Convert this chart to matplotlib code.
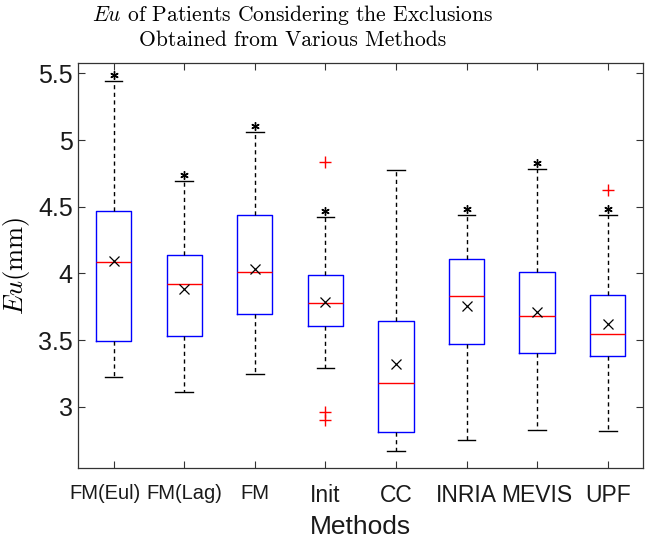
import numpy as np
import matplotlib
matplotlib.use('Agg')
import matplotlib.pyplot as plt
import matplotlib.transforms as mtransforms

plt.rcParams['font.family'] = ['Liberation Sans', 'DejaVu Sans']
plt.rcParams['mathtext.fontset'] = 'cm'

# Data
methods = ['FM(Eul)', 'FM(Lag)', 'FM', 'Init', 'CC', 'INRIA', 'MEVIS', 'UPF']
label_sizes = [14.5, 14.5, 14.5, 16.5, 16.5, 16.5, 16.5, 16.5]
q1 = [3.495, 3.532, 3.700, 3.607, 2.812, 3.475, 3.405, 3.380]
med = [4.087, 3.920, 4.012, 3.777, 3.182, 3.832, 3.682, 3.545]
q3 = [4.470, 4.137, 4.437, 3.992, 3.645, 4.112, 4.012, 3.842]
whislo = [3.225, 3.112, 3.245, 3.292, 2.672, 2.755, 2.827, 2.817]
whishi = [5.445, 4.695, 5.062, 4.425, 4.775, 4.437, 4.782, 4.437]
means = [4.090, 3.880, 4.030, 3.785, 3.320, 3.757, 3.715, 3.625]
outliers = [[], [], [], [4.832, 2.962, 2.905], [], [], [], [4.625]]
starred = [True, True, True, True, False, True, True, True]

stats = []
for i in range(len(methods)):
    stats.append(dict(label=methods[i], q1=q1[i], med=med[i], q3=q3[i],
                      whislo=whislo[i], whishi=whishi[i], mean=means[i],
                      fliers=outliers[i]))

fig = plt.figure(figsize=(6.45, 5.38), dpi=100)
ax = fig.add_axes([0.1214, 0.1296, 0.8755, 0.7539])

pos = np.arange(1, len(methods) + 1)
ax.bxp(stats, positions=pos, widths=0.5, showmeans=True,
       boxprops=dict(color='blue', linewidth=1.0),
       medianprops=dict(color='red', linewidth=1.0),
       whiskerprops=dict(color='black', linestyle=(0, (3, 2.5)), linewidth=1.0),
       capprops=dict(color='black', linewidth=1.0),
       flierprops=dict(marker='+', markeredgecolor='red', markersize=9,
                       markeredgewidth=1.0, linestyle='none'),
       meanprops=dict(marker='x', markeredgecolor='black', markerfacecolor='none',
                      markersize=7, markeredgewidth=0.9))

# stars just above the upper whisker
star_tr = ax.transData + mtransforms.ScaledTranslation(0, 4.2 / 72, fig.dpi_scale_trans)
for i in range(len(methods)):
    if starred[i]:
        ax.plot(pos[i], whishi[i], marker=(6, 2, 0), color='black', markersize=6,
                markeredgewidth=1.0, transform=star_tr, clip_on=False)

ax.set_xlim(0.5, 8.5)
ax.set_ylim(2.54, 5.58)
ax.set_yticks([3, 3.5, 4, 4.5, 5, 5.5])
ax.set_yticklabels(['3', '3.5', '4', '4.5', '5', '5.5'], fontsize=18)
ax.set_xticks(pos)
ax.set_xticklabels(methods)
for lbl, sz in zip(ax.get_xticklabels(), label_sizes):
    lbl.set_fontsize(sz)
    lbl.set_verticalalignment('top')

ax.tick_params(direction='in', top=True, right=True, length=5, width=0.8,
               color='#333333', labelcolor='#1a1a1a')
ax.tick_params(axis='x', pad=11)
ax.tick_params(axis='y', pad=4)
for sp in ax.spines.values():
    sp.set_color('#333333')
    sp.set_linewidth(0.9)

# first label sits a bit left of its tick in the reference
first = ax.get_xticklabels()[0]
first.set_transform(first.get_transform()
                    + mtransforms.ScaledTranslation(-6 / 72, 0, fig.dpi_scale_trans))

ax.set_xlabel('Methods', fontsize=19, color='#1a1a1a', labelpad=6)
ax.set_ylabel(r'$Eu\mathrm{(mm)}$', fontsize=19, labelpad=4)
ax.set_title('$Eu$ of Patients Considering the Exclusions\n'
             'Obtained from Various Methods',
             fontfamily='cmr10', fontsize=15.5, linespacing=1.25, pad=12, x=0.38)

fig.savefig('out.png', dpi=100)
